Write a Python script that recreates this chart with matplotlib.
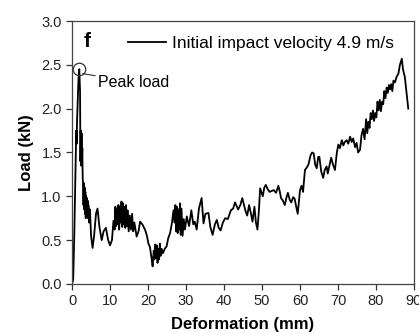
import matplotlib
matplotlib.use("Agg")
import matplotlib.pyplot as plt

plt.rcParams['font.family'] = ['Liberation Sans', 'DejaVu Sans']

# deformation (mm) and load (kN)
deformation = [
    0, 0.3, 0.6, 0.9, 1.1, 1.2, 1.3, 1.5, 1.7, 1.9, 2.1, 2.2, 2.3, 2.4, 2.5, 2.6, 2.7, 2.8, 2.9,
    3.0, 3.1, 3.2, 3.3, 3.4, 3.5, 3.6, 3.7, 3.8, 3.9, 4.0, 4.1, 4.2, 4.3, 4.5, 4.7, 5.0, 5.4,
    5.8, 6.3, 6.7, 7.2, 7.8, 8.3, 8.9, 9.5, 10.0, 10.5, 10.9, 11.2, 11.4, 11.6, 11.8, 12.0,
    12.2, 12.4, 12.6, 12.8, 13.0, 13.2, 13.4, 13.6, 13.8, 14.0, 14.2, 14.4, 14.6, 14.9, 15.2,
    15.5, 15.8, 16.1, 16.4, 17.0, 17.5, 17.9, 18.5, 19.2, 19.7, 20.1, 20.5, 20.9, 21.2, 21.5,
    21.7, 21.9, 22.1, 22.3, 22.5, 22.7, 22.9, 23.1, 23.3, 23.6, 23.9, 24.4, 24.9, 25.3, 25.8,
    26.3, 26.7, 27.0, 27.2, 27.4, 27.6, 27.8, 28.0, 28.2, 28.4, 28.6, 28.8, 29.1, 29.4, 29.7,
    30.2, 30.8, 31.4, 31.9, 32.3, 32.8, 33.4, 34.1, 34.6, 35.1, 35.9, 36.4, 37.0, 37.6, 38.1,
    38.6, 39.1, 39.7, 40.3, 41.0, 41.8, 42.4, 42.9, 43.7, 44.3, 44.8, 45.6, 46.1, 46.6, 47.1,
    47.5, 48.0, 48.4, 48.8, 49.2, 49.5, 50.2, 50.6, 51.0, 51.5, 52.0, 52.5, 53.1, 53.7, 54.3,
    54.7, 55.0, 55.5, 56.0, 56.4, 56.8, 57.3, 57.7, 58.2, 58.6, 59.0, 59.4, 60.0, 60.4, 60.8,
    61.3, 61.8, 62.2, 62.8, 63.2, 63.6, 64.0, 64.4, 64.8, 65.1, 65.6, 66.1, 66.5, 67.0, 67.3,
    67.6, 68.2, 68.7, 69.2, 69.7, 70.1, 70.5, 71.0, 71.4, 71.8, 72.3, 72.7, 73.2, 73.6, 74.0,
    74.5, 74.9, 75.3, 75.8, 76.2, 76.6, 77.0, 77.4, 77.7, 78.0, 78.3, 78.6, 78.9, 79.2, 79.5,
    79.8, 80.1, 80.4, 80.7, 81.0, 81.3, 81.6, 81.9, 82.2, 82.5, 82.8, 83.1, 83.4, 83.7, 84.0,
    84.3, 84.6, 85.0, 85.4, 85.9, 86.3, 86.8, 87.1, 87.6, 88.0, 88.5,
]
load = [
    0, 0.05, 0.6, 1.3, 1.75, 1.6, 1.85, 2.1, 2.35, 2.45, 2.2, 1.4, 1.75, 1.35, 1.72, 1.4, 1.55, 1.2, 1.15,
    0.9, 1.15, 0.85, 1.1, 0.8, 1.05, 0.75, 1.0, 0.8, 0.98, 0.78, 0.95, 0.75, 0.9, 0.7, 0.85, 0.55, 0.41,
    0.55, 0.8, 0.86, 0.65, 0.50, 0.6, 0.64, 0.5, 0.44, 0.5, 0.72, 0.62, 0.88, 0.66, 0.85, 0.68,
    0.9, 0.62, 0.88, 0.7, 0.94, 0.65, 0.92, 0.68, 0.88, 0.64, 0.9, 0.66, 0.84, 0.6, 0.78,
    0.62, 0.8, 0.6, 0.7, 0.54, 0.6, 0.71, 0.68, 0.62, 0.55, 0.46, 0.42, 0.3, 0.2, 0.38,
    0.28, 0.45, 0.3, 0.44, 0.24, 0.40, 0.28, 0.46, 0.32, 0.40, 0.35, 0.4, 0.43, 0.52, 0.58,
    0.7, 0.84, 0.70, 0.90, 0.6, 0.88, 0.58, 0.85, 0.62, 0.92, 0.56, 0.86, 0.55, 0.74, 0.62,
    0.77, 0.66, 0.84, 0.68, 0.71, 0.62, 0.86, 0.98, 0.69, 0.8, 0.81, 0.65, 0.56, 0.68, 0.73,
    0.64, 0.61, 0.7, 0.75, 0.74, 0.84, 0.86, 0.93, 0.85, 0.9, 0.98, 0.84, 0.78, 0.90, 0.80,
    0.71, 0.88, 0.7, 0.62, 0.85, 1.09, 1.0, 1.1, 1.13, 1.08, 1.05, 1.06, 1.07, 1.04, 1.12,
    1.05, 0.98, 0.95, 0.90, 0.98, 1.04, 0.96, 0.93, 0.99, 0.97, 0.88, 0.80, 1.07, 1.12, 1.05,
    1.30, 1.33, 1.36, 1.47, 1.50, 1.49, 1.36, 1.32, 1.45, 1.45, 1.28, 1.21, 1.30, 1.34, 1.26,
    1.32, 1.44, 1.36, 1.30, 1.50, 1.59, 1.55, 1.64, 1.58, 1.62, 1.64, 1.60, 1.68, 1.62, 1.66,
    1.56, 1.61, 1.50, 1.53, 1.70, 1.77, 1.65, 1.88, 1.72, 1.85, 1.78, 1.95, 1.88, 1.98, 1.86,
    1.95, 1.9, 2.08, 1.98, 2.10, 1.97, 2.08, 2.05, 2.20, 2.12, 2.24, 2.18, 2.27, 2.22, 2.28,
    2.20, 2.32, 2.30, 2.36, 2.40, 2.50, 2.57, 2.45, 2.36, 2.20, 2.0,
]
peak = (1.9, 2.45)
x_ticks = [0, 10, 20, 30, 40, 50, 60, 70, 80, 90]
y_ticks = [0.0, 0.5, 1.0, 1.5, 2.0, 2.5, 3.0]

fig = plt.figure(figsize=(4.19, 3.34), dpi=100)
ax = fig.add_axes([0.172, 0.150, 0.816, 0.787])

ax.plot(deformation, load, color='black', lw=1.3, label='Initial impact velocity 4.9 m/s')
ax.plot([peak[0]], [peak[1]], 'o', ms=9, mfc='none', mec='#333333', mew=0.9)
ax.annotate('Peak load', xy=(peak[0] + 0.9, peak[1] - 0.05), xytext=(6.8, 2.30),
            fontsize=11.5, va='center', ha='left',
            arrowprops=dict(arrowstyle='-', color='#333333', lw=0.8, shrinkA=0, shrinkB=0))

ax.set_xlim(0, 90)
ax.set_ylim(0, 3.0)
ax.set_xticks(x_ticks)
ax.set_yticks(y_ticks)
ax.set_yticklabels([f"{v:.1f}" for v in y_ticks])
ax.tick_params(direction='out', length=4, width=0.9, labelsize=10.5, colors='#333333', labelcolor='#222222')
for s in ax.spines.values():
    s.set_color('#444444')
    s.set_linewidth(0.9)

ax.set_xlabel('Deformation (mm)', fontsize=12, fontweight='bold', labelpad=6)
ax.set_ylabel('Load (kN)', fontsize=12, fontweight='bold', labelpad=5)

ax.text(0.045, 0.924, 'f', transform=ax.transAxes, fontsize=15, fontweight='bold',
        ha='center', va='center')
ax.legend(loc='center left', bbox_to_anchor=(0.164, 0.916), frameon=False, fontsize=12.5,
          handlelength=2.2, handletextpad=0.3, borderpad=0, borderaxespad=0)

fig.savefig('out.png', dpi=100)
